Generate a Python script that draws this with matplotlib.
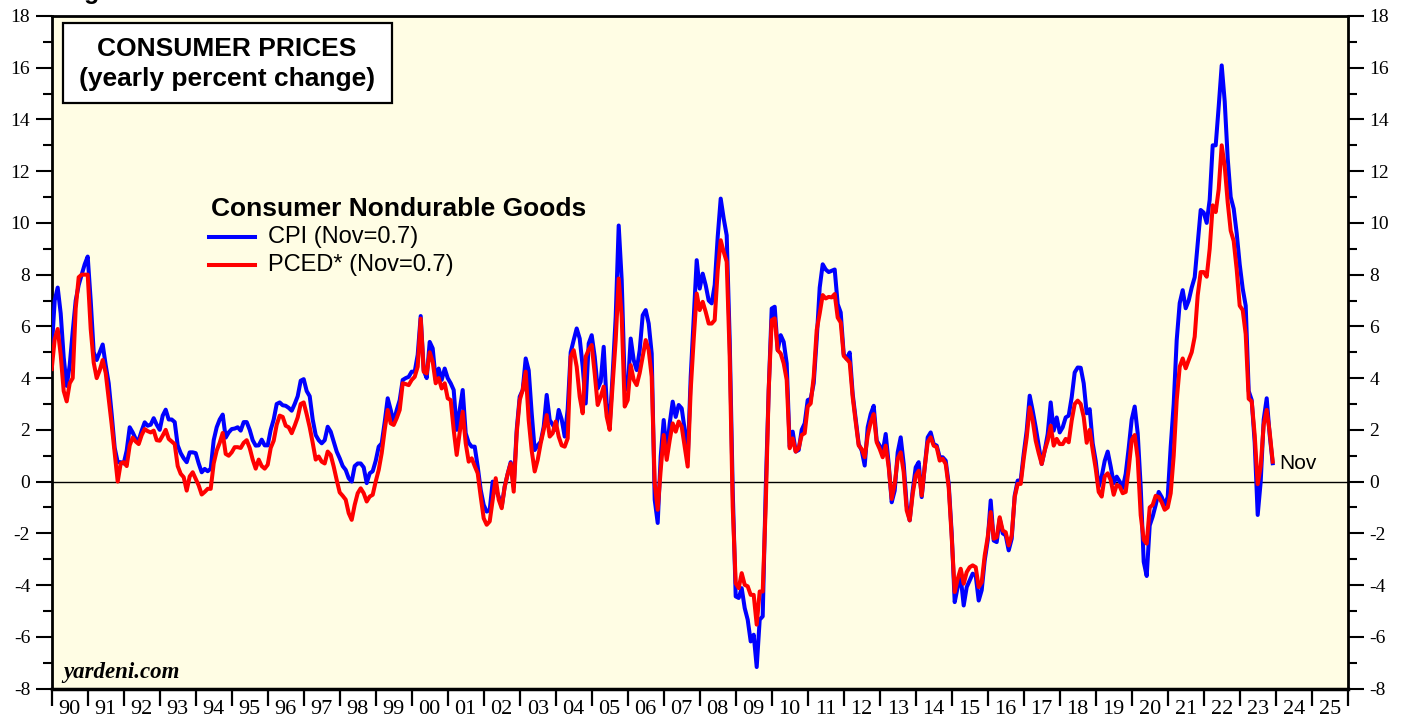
import matplotlib
matplotlib.use("Agg")
import matplotlib.pyplot as plt
import numpy as np
import pandas as pd
from matplotlib.patches import Rectangle
from matplotlib.lines import Line2D
from matplotlib.ticker import MultipleLocator

plt.rcParams['font.family'] = ['Liberation Serif', 'DejaVu Serif']
plt.rcParams['axes.unicode_minus'] = False

# monthly yearly % change, Dec 1989 .. Nov 2023
months = pd.period_range('1989-12', '2023-11', freq='M')

cpi = [
    5.1,
    7.0, 7.5, 6.5, 4.8, 3.7, 4.5, 5.8, 7.0, 7.6, 8.0, 8.4, 8.7,  # 1990
    7.0, 5.0, 4.7, 5.0, 5.3, 4.5, 3.8, 2.6, 1.3, 0.75, 0.75, 0.7,  # 1991
    1.2, 2.1, 1.9, 1.65, 1.6, 1.97, 2.29, 2.16, 2.2, 2.45, 2.2, 2.0,  # 1992
    2.55, 2.78, 2.4, 2.4, 2.3, 1.4, 1.1, 0.9, 0.75, 1.13, 1.13, 1.1,  # 1993
    0.7, 0.36, 0.49, 0.4, 0.5, 1.6, 2.1, 2.4, 2.59, 1.7, 1.9, 2.03,  # 1994
    2.05, 2.1, 1.97, 2.3, 2.3, 2.0, 1.6, 1.39, 1.4, 1.62, 1.4, 1.4,  # 1995
    2.0, 2.4, 3.0, 3.06, 2.95, 2.93, 2.85, 2.74, 3.0, 3.3, 3.9, 3.96,  # 1996
    3.5, 3.3, 2.4, 1.8, 1.6, 1.48, 1.6, 2.12, 1.93, 1.54, 1.16, 0.9,  # 1997
    0.6, 0.45, 0.13, 0.0, 0.6, 0.7, 0.7, 0.55, -0.06, 0.32, 0.4, 0.8,  # 1998
    1.35, 1.48, 2.3, 3.22, 2.77, 2.3, 2.77, 3.15, 3.93, 4.0, 4.05, 4.25,  # 1999
    4.25, 4.9, 6.4, 4.3, 4.0, 5.4, 5.15, 3.93, 4.37, 3.93, 4.37, 4.0,  # 2000
    3.8, 3.54, 2.0, 2.77, 3.54, 1.87, 1.5, 1.35, 1.35, 0.58, -0.32, -0.9,  # 2001
    -1.16, -1.1, 0.0, -0.3, -0.58, -0.97, -0.19, 0.3, 0.75, -0.19, 2.0, 3.28,  # 2002
    3.54, 4.76, 4.3, 2.64, 1.22, 1.4, 1.54, 2.12, 3.35, 2.38, 2.2, 2.0,  # 2003
    2.77, 2.4, 1.74, 2.8, 5.0, 5.47, 5.92, 5.53, 4.44, 3.02, 5.34, 5.66,  # 2004
    4.83, 3.6, 3.86, 5.21, 3.02, 2.19, 4.18, 6.37, 9.9, 7.79, 3.8, 3.54,  # 2005
    5.53, 4.7, 4.31, 5.08, 6.43, 6.63, 6.11, 4.95, -0.7, -1.6, 0.97, 2.38,  # 2006
    1.1, 2.25, 3.09, 2.5, 2.96, 2.83, 2.0, 0.84, 4.05, 6.3, 8.56, 7.46,  # 2007
    8.04, 7.59, 7.0, 6.89, 7.6, 9.46, 10.94, 10.17, 9.52, 5.47, -0.32, -4.44,  # 2008
    -4.5, -4.12, -4.89, -5.34, -6.18, -5.92, -7.17, -5.34, -5.21, -0.32, 3.54, 6.69,  # 2009
    6.76, 5.08, 5.66, 5.4, 4.57, 1.35, 1.93, 1.16, 1.22, 2.0, 2.25, 3.15,  # 2010
    3.2, 3.8, 5.5, 7.5, 8.4, 8.2, 8.1, 8.15, 8.2, 6.86, 6.54, 4.93,  # 2011
    4.74, 4.99, 3.38, 2.4, 1.45, 1.2, 0.62, 2.1, 2.61, 2.93, 1.58, 1.39,  # 2012
    1.13, 1.84, 0.68, -0.8, -0.35, 1.13, 1.71, 0.68, -0.93, -1.5, -0.35, 0.55,  # 2013
    0.75, -0.6, 0.55, 1.71, 1.9, 1.45, 1.39, 0.94, 0.94, 0.81, -0.09, -2.0,  # 2014
    -4.66, -4.08, -3.69, -4.79, -4.08, -3.82, -3.56, -3.63, -4.6, -4.2, -3.05, -2.28,  # 2015
    -0.73, -2.28, -2.34, -1.44, -2.0, -2.08, -2.66, -2.21, -0.54, 0.04, 0.04, 1.07,  # 2016
    1.97, 3.32, 2.74, 2.1, 1.4, 0.68, 1.2, 1.84, 3.06, 1.97, 2.48, 1.9,  # 2017
    2.1, 2.48, 2.55, 3.26, 4.22, 4.41, 4.4, 3.8, 2.64, 2.8, 1.48, 0.8,  # 2018
    -0.2, 0.2, 0.8, 1.16, 0.58, -0.06, 0.19, 0.0, -0.25, 0.3, 1.3, 2.4,  # 2019
    2.9, 1.87, -0.2, -3.1, -3.65, -1.7, -1.35, -0.9, -0.4, -0.6, -0.9, -0.6,  # 2020
    1.35, 3.0, 5.47, 6.9, 7.4, 6.7, 7.0, 7.5, 7.9, 9.2, 10.5, 10.4,  # 2021
    10.0, 10.9, 13.0, 13.0, 14.5, 16.09, 14.7, 12.5, 11.0, 10.55, 9.6, 8.4,  # 2022
    7.46, 6.8, 3.5, 3.15, 1.5, -1.29, 0.0, 2.4, 3.22, 1.8, 0.71,  # 2023
]

pced = [
    4.35,
    5.5, 5.9, 4.9, 3.5, 3.1, 3.8, 4.0, 6.7, 7.9, 8.0, 8.0, 8.0,  # 1990
    5.9, 4.6, 4.0, 4.3, 4.7, 4.2, 3.2, 2.2, 1.1, 0.0, 0.7, 0.75,  # 1991
    0.6, 1.4, 1.7, 1.55, 1.45, 1.8, 2.03, 1.95, 1.9, 1.97, 1.6, 1.58,  # 1992
    1.78, 2.0, 1.65, 1.55, 1.45, 0.6, 0.3, 0.17, -0.35, 0.2, 0.36, 0.1,  # 1993
    -0.15, -0.5, -0.4, -0.28, -0.28, 0.7, 1.2, 1.5, 1.88, 1.07, 1.0, 1.13,  # 1994
    1.33, 1.33, 1.3, 1.5, 1.6, 1.3, 0.85, 0.5, 0.85, 0.6, 0.5, 0.65,  # 1995
    1.3, 1.58, 2.2, 2.55, 2.5, 2.16, 2.1, 1.87, 2.16, 2.48, 3.0, 3.06,  # 1996
    2.6, 2.1, 1.5, 0.85, 0.97, 0.77, 0.7, 1.16, 1.03, 0.58, 0.06, -0.42,  # 1997
    -0.55, -0.7, -1.22, -1.48, -0.9, -0.45, -0.26, -0.45, -0.77, -0.58, -0.51, 0.0,  # 1998
    0.45, 1.1, 2.0, 2.77, 2.25, 2.19, 2.45, 2.77, 3.8, 3.77, 3.73, 3.93,  # 1999
    4.05, 4.44, 6.3, 4.25, 4.18, 5.0, 4.63, 3.8, 4.0, 3.6, 3.8, 3.22,  # 2000
    3.15, 2.0, 1.03, 1.9, 2.7, 1.48, 0.77, 0.9, 0.6, 0.32, -0.58, -1.42,  # 2001
    -1.67, -1.54, -0.7, 0.13, -0.7, -1.03, -0.2, 0.3, 0.7, -0.39, 1.87, 3.15,  # 2002
    3.54, 4.25, 2.38, 1.2, 0.39, 0.84, 1.48, 2.0, 2.57, 1.74, 1.87, 2.32,  # 2003
    1.74, 1.4, 1.35, 1.67, 4.83, 5.08, 4.44, 3.28, 2.64, 4.83, 5.1, 5.28,  # 2004
    4.18, 2.96, 3.28, 3.67, 2.51, 2.0, 3.8, 5.47, 7.85, 6.37, 2.9, 3.15,  # 2005
    4.5, 3.93, 3.73, 4.2, 4.83, 5.47, 5.08, 4.05, -0.06, -1.09, 0.45, 1.8,  # 2006
    0.84, 1.6, 2.25, 1.93, 2.32, 2.12, 1.35, 0.58, 3.54, 5.5, 7.27, 6.63,  # 2007
    6.95, 6.56, 6.11, 6.11, 6.24, 8.17, 9.33, 8.88, 8.5, 4.83, -0.97, -3.93,  # 2008
    -4.12, -3.54, -3.99, -4.05, -4.38, -4.38, -5.53, -4.25, -4.25, -0.97, 3.54, 6.24,  # 2009
    6.31, 5.08, 4.95, 4.57, 3.93, 1.29, 1.67, 1.16, 1.29, 1.8, 1.87, 2.9,  # 2010
    3.02, 4.05, 5.86, 6.5, 7.21, 7.08, 7.14, 7.12, 7.25, 6.34, 6.15, 4.86,  # 2011
    4.74, 4.6, 3.26, 2.3, 1.39, 1.26, 0.94, 1.78, 2.29, 2.61, 1.52, 1.26,  # 2012
    0.94, 1.39, 0.55, -0.67, -0.09, 0.88, 1.13, 0.36, -1.12, -1.5, -0.48, 0.23,  # 2013
    0.42, -0.54, 0.55, 1.52, 1.71, 1.39, 1.33, 0.81, 0.88, 0.68, -0.22, -2.15,  # 2014
    -4.27, -3.76, -3.37, -3.95, -3.5, -3.31, -3.24, -3.31, -4.08, -3.89, -2.86, -2.15,  # 2015
    -1.18, -2.21, -2.15, -1.38, -1.89, -1.96, -2.47, -2.08, -0.6, -0.09, -0.09, 0.88,  # 2016
    1.71, 2.87, 2.36, 1.58, 1.1, 0.68, 1.2, 1.58, 2.16, 1.39, 1.65, 1.45,  # 2017
    1.45, 1.65, 1.52, 2.36, 3.0, 3.13, 3.0, 2.5, 1.5, 2.0, 1.22, 0.5,  # 2018
    -0.4, -0.58, 0.2, 0.32, 0.06, -0.51, -0.13, -0.19, -0.45, -0.4, 0.5, 1.61,  # 2019
    1.8, 0.9, -1.3, -2.25, -2.4, -1.0, -0.9, -0.55, -0.6, -0.8, -1.09, -1.0,  # 2020
    -0.45, 1.0, 3.15, 4.44, 4.76, 4.38, 4.7, 5.0, 5.6, 7.2, 8.1, 8.1,  # 2021
    7.92, 9.0, 10.68, 10.42, 11.3, 13.0, 12.2, 10.8, 9.7, 9.3, 8.2, 6.8,  # 2022
    6.63, 5.7, 3.2, 3.1, 1.8, -0.1, 0.6, 2.2, 2.77, 1.9, 0.77,  # 2023
]

years = list(range(1990, 2026))
year_labels = [f"{y % 100:02d}" for y in years]

# month plotted at its end
t = months.year + months.month / 12.0

W, H = 1407, 719
fig = plt.figure(figsize=(W / 100, H / 100), dpi=100)
fig.patch.set_facecolor('white')
ax = fig.add_axes([51.7 / W, 1 - 688.5 / H, 1296 / W, 672.5 / H])
ax.set_facecolor('#fffde4')

ax.axhline(0, color='black', lw=1.0, zorder=1)
ax.plot(t, cpi, color='#0000ff', lw=2.9, zorder=3)
ax.plot(t, pced, color='#ff0000', lw=2.9, zorder=4)

ax.set_xlim(1990, 2026)
ax.set_ylim(-8, 18)

for side in ['left', 'right', 'top']:
    ax.spines[side].set_linewidth(2.0)
ax.spines['bottom'].set_linewidth(2.5)

ax.yaxis.set_major_locator(MultipleLocator(2))
ax.yaxis.set_minor_locator(MultipleLocator(1))
ax.tick_params(axis='y', which='both', direction='out', left=True, right=True,
               labelleft=True, labelright=True, labelsize=14, width=1.5, pad=4)
ax.tick_params(axis='y', which='major', length=11.5)
ax.tick_params(axis='y', which='minor', length=6.5)

ax.set_xticks(years + [2026])
ax.set_xticklabels([])
ax.set_xticks([y + 0.5 for y in years], minor=True)
ax.set_xticklabels(year_labels, minor=True)
ax.tick_params(axis='x', which='major', direction='out', length=12, width=1.6)
ax.tick_params(axis='x', which='minor', length=0, labelsize=16, pad=8)

# title box
ax.add_patch(Rectangle((0.0087, 0.8706), 0.2539, 0.119, transform=ax.transAxes,
                       facecolor='white', edgecolor='black', lw=1.6, zorder=5))
ax.text(0.1353, 0.951, 'CONSUMER PRICES', transform=ax.transAxes, ha='center',
        va='center', fontsize=19, fontweight='bold', family='Liberation Sans', zorder=6)
ax.text(0.1353, 0.907, '(yearly percent change)', transform=ax.transAxes, ha='center',
        va='center', fontsize=19, fontweight='bold', family='Liberation Sans', zorder=6)

# legend
ax.text(0.1229, 0.713, 'Consumer Nondurable Goods', transform=ax.transAxes,
        ha='left', va='center', fontsize=19, fontweight='bold', family='Liberation Sans')
for yy, col, lab in [(0.6714, '#0000ff', 'CPI (Nov=0.7)'),
                     (0.6297, '#ff0000', 'PCED* (Nov=0.7)')]:
    ax.add_line(Line2D([0.1214, 0.1569], [yy, yy], transform=ax.transAxes,
                       color=col, lw=2.9))
    ax.text(0.1669, yy, lab, transform=ax.transAxes, ha='left', va='center',
            fontsize=17, family='Liberation Sans')

ax.annotate('Nov', xy=(t[-1], cpi[-1]), xytext=(5, 0), textcoords='offset points',
            ha='left', va='center', fontsize=15, family='Liberation Sans')

ax.text(0.0087, 0.0245, 'yardeni.com', transform=ax.transAxes, ha='left', va='center',
        fontsize=16.5, fontweight='bold', fontstyle='italic', family='Liberation Serif')

fig.text(62 / W, 1 + 1 / H, 'Figure', ha='left', va='baseline', fontsize=18,
         fontweight='bold', family='Liberation Sans')

fig.savefig('out.png', dpi=100)
